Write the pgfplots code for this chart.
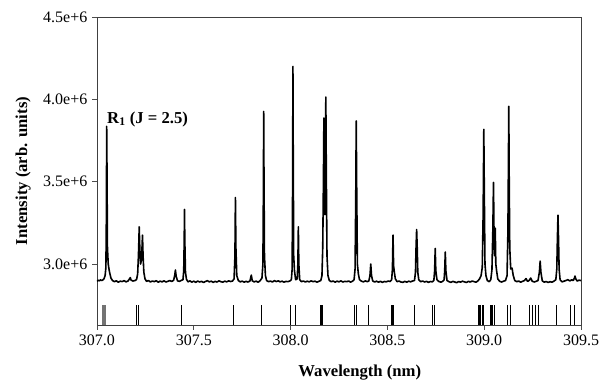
\documentclass[border=0pt]{standalone}
\usepackage{fontspec}
\setmainfont{Liberation Serif}
\usepackage{pgfplots}
\pgfplotsset{compat=1.18}
\usetikzlibrary{calc}
\begin{document}
\begin{tikzpicture}
\begin{axis}[
  scale only axis, width=363pt, height=231pt,
  xmin=307, xmax=309.5, ymin=2.63, ymax=4.5,
  xtick={307,307.5,308,308.5,309,309.5},
  xticklabels={307.0,307.5,308.0,308.5,309.0,309.5},
  ytick={3,3.5,4,4.5},
  yticklabels={3.0e+6,3.5e+6,4.0e+6,4.5e+6},
  tick align=outside, xtick pos=left, ytick pos=left,
  major tick length=3.75pt,
  tick style={black!70, line width=0.5pt},
  axis line style={black!75, line width=0.6pt},
  /pgf/number format/assume math mode=true,
  ticklabel style={font=\fontsize{12}{14}\selectfont},
  xlabel={Wavelength (nm)}, ylabel={Intensity (arb. units)},
  xlabel style={font=\fontsize{12.5}{14}\selectfont\bfseries, at={(axis description cs:0.543,-0.1656)}, anchor=base},
  ylabel style={font=\fontsize{12.5}{14}\selectfont\bfseries, at={(axis description cs:-0.1446,0.5)}, anchor=base},
  clip=true,
]
% sticks (line positions)
\addplot[ycomb, black!55, line width=0.5pt, no marks] coordinates {
(307.028,2.752) (307.032,2.752) (307.036,2.752) (307.040,2.752) (307.044,2.752)
};
\addplot[ycomb, black, line width=0.5pt, no marks] coordinates {
(307.203,2.752) (307.213,2.752) (307.436,2.752) (307.703,2.752) (307.847,2.752)
(308.000,2.752) (308.025,2.752) (308.155,2.752) (308.159,2.752) (308.163,2.752)
(308.330,2.752) (308.340,2.752) (308.404,2.752)
(308.519,2.752) (308.524,2.752) (308.530,2.752) (308.641,2.752)
(308.731,2.752) (308.744,2.752)
(308.970,2.752) (308.976,2.752) (308.982,2.752) (308.988,2.752) (308.994,2.752)
(309.030,2.752) (309.036,2.752) (309.044,2.752) (309.052,2.752)
(309.120,2.752) (309.134,2.752)
(309.235,2.752) (309.248,2.752) (309.266,2.752) (309.280,2.752)
(309.373,2.752) (309.447,2.752) (309.466,2.752)
};
% spectrum (values in units of 1e6)
\addplot[black, line width=1.2pt, no marks, line join=round] coordinates {
(307.000,2.895) (307.006,2.902) (307.012,2.898) (307.018,2.904) (307.024,2.900)
(307.030,2.903) (307.036,2.910) (307.042,2.930) (307.046,2.98) (307.0485,3.30)
(307.050,3.836) (307.0515,3.60) (307.054,3.10) (307.058,3.00) (307.064,2.955)
(307.072,2.915) (307.080,2.900) (307.090,2.893) (307.100,2.898) (307.110,2.890)
(307.120,2.896) (307.130,2.894) (307.140,2.899) (307.150,2.892) (307.160,2.897)
(307.168,2.910) (307.172,2.918) (307.176,2.902) (307.186,2.897) (307.196,2.900)
(307.204,2.905) (307.210,2.94) (307.214,3.05) (307.2165,3.15) (307.218,3.226)
(307.221,3.10) (307.225,3.00) (307.229,3.02) (307.2325,3.10) (307.235,3.176)
(307.238,3.05) (307.242,2.95) (307.248,2.91) (307.256,2.895) (307.266,2.900)
(307.276,2.891) (307.286,2.897) (307.296,2.893) (307.306,2.899) (307.316,2.890)
(307.326,2.896) (307.336,2.892) (307.346,2.898) (307.356,2.891) (307.366,2.895)
(307.376,2.900) (307.386,2.894) (307.396,2.902) (307.402,2.935) (307.405,2.964)
(307.409,2.925) (307.416,2.898) (307.426,2.895) (307.434,2.900) (307.444,2.905)
(307.448,2.96) (307.4505,3.15) (307.452,3.331) (307.4535,3.15) (307.457,2.95)
(307.462,2.908) (307.470,2.892) (307.480,2.898) (307.490,2.890) (307.500,2.896)
(307.510,2.889) (307.520,2.897) (307.530,2.891) (307.540,2.895) (307.550,2.888)
(307.560,2.894) (307.570,2.899) (307.580,2.892) (307.590,2.896) (307.600,2.889)
(307.610,2.895) (307.620,2.891) (307.630,2.898) (307.640,2.893) (307.650,2.890)
(307.660,2.896) (307.670,2.892) (307.680,2.898) (307.690,2.894) (307.700,2.897)
(307.708,2.910) (307.7125,3.05) (307.715,3.404) (307.7175,3.10) (307.722,2.93)
(307.730,2.900) (307.740,2.892) (307.750,2.896) (307.760,2.890) (307.770,2.895)
(307.780,2.891) (307.790,2.897) (307.797,2.933) (307.802,2.898) (307.812,2.892)
(307.822,2.896) (307.832,2.890) (307.842,2.898) (307.852,2.915) (307.857,3.00)
(307.8595,3.45) (307.861,3.927) (307.8625,3.55) (307.865,3.05) (307.870,2.93)
(307.876,2.900) (307.886,2.893) (307.896,2.897) (307.906,2.891) (307.916,2.899)
(307.926,2.894) (307.936,2.898) (307.946,2.892) (307.956,2.896) (307.966,2.890)
(307.976,2.895) (307.986,2.893) (307.996,2.897) (308.004,2.905) (308.008,2.97)
(308.0105,3.50) (308.012,4.200) (308.0135,3.70) (308.016,3.05) (308.020,2.96)
(308.026,2.905) (308.034,2.91) (308.0375,3.00) (308.040,3.226) (308.0425,3.00)
(308.047,2.905) (308.056,2.893) (308.066,2.897) (308.076,2.891) (308.086,2.896)
(308.096,2.892) (308.106,2.898) (308.116,2.893) (308.126,2.896) (308.136,2.890)
(308.146,2.895) (308.156,2.900) (308.162,2.93) (308.166,3.10) (308.1695,3.50)
(308.172,3.887) (308.175,3.50) (308.177,3.30) (308.1795,3.60) (308.182,4.014)
(308.1845,3.55) (308.188,3.05) (308.193,2.93) (308.200,2.900) (308.210,2.893)
(308.220,2.897) (308.230,2.890) (308.240,2.896) (308.250,2.892) (308.260,2.898)
(308.270,2.891) (308.280,2.895) (308.290,2.893) (308.300,2.897) (308.310,2.890)
(308.320,2.896) (308.328,2.905) (308.333,2.97) (308.3365,3.40) (308.339,3.869)
(308.3415,3.45) (308.345,3.00) (308.350,2.94) (308.356,2.905) (308.366,2.896)
(308.376,2.892) (308.386,2.898) (308.396,2.893) (308.404,2.897) (308.410,2.93)
(308.414,3.000) (308.418,2.93) (308.424,2.898) (308.434,2.891) (308.444,2.896)
(308.454,2.890) (308.464,2.895) (308.474,2.889) (308.484,2.894) (308.494,2.892)
(308.504,2.897) (308.514,2.894) (308.522,2.905) (308.526,2.97) (308.529,3.176)
(308.532,2.99) (308.536,2.95) (308.541,2.91) (308.550,2.893) (308.560,2.897)
(308.570,2.891) (308.580,2.889) (308.590,2.895) (308.600,2.890) (308.610,2.896)
(308.620,2.892) (308.630,2.897) (308.640,2.900) (308.645,2.95) (308.648,3.10)
(308.651,3.21) (308.654,3.10) (308.657,2.95) (308.662,2.905) (308.672,2.893)
(308.682,2.897) (308.692,2.891) (308.702,2.895) (308.712,2.889) (308.722,2.894)
(308.732,2.892) (308.740,2.900) (308.744,2.96) (308.747,3.095) (308.750,2.96)
(308.756,2.905) (308.766,2.894) (308.776,2.890) (308.786,2.895) (308.793,2.905)
(308.796,2.96) (308.799,3.073) (308.802,2.96) (308.808,2.900) (308.818,2.893)
(308.828,2.889) (308.838,2.895) (308.848,2.891) (308.858,2.887) (308.868,2.894)
(308.878,2.890) (308.888,2.896) (308.898,2.892) (308.908,2.888) (308.918,2.895)
(308.928,2.891) (308.938,2.897) (308.948,2.893) (308.958,2.890) (308.968,2.898)
(308.976,2.910) (308.984,2.93) (308.990,2.98) (308.9945,3.30) (308.998,3.818)
(309.0005,3.45) (309.004,3.00) (309.009,2.93) (309.016,2.900) (309.026,2.893)
(309.034,2.905) (309.040,2.965) (309.0445,3.20) (309.048,3.495) (309.0515,3.10)
(309.054,3.05) (309.057,3.218) (309.060,3.00) (309.064,2.96) (309.070,2.91)
(309.080,2.895) (309.090,2.891) (309.100,2.896) (309.110,2.900) (309.118,2.93)
(309.1225,3.20) (309.125,3.60) (309.127,3.958) (309.129,3.55) (309.132,3.10)
(309.137,2.97) (309.144,2.975) (309.150,2.93) (309.158,2.900) (309.168,2.893)
(309.178,2.897) (309.188,2.890) (309.198,2.895) (309.208,2.900) (309.216,2.912)
(309.224,2.895) (309.232,2.900) (309.240,2.915) (309.248,2.896) (309.258,2.891)
(309.268,2.895) (309.278,2.900) (309.285,2.95) (309.289,3.018) (309.293,2.95)
(309.300,2.898) (309.310,2.890) (309.320,2.894) (309.330,2.888) (309.340,2.893)
(309.350,2.890) (309.360,2.896) (309.370,2.905) (309.375,2.97) (309.378,3.15)
(309.381,3.297) (309.384,3.15) (309.387,2.97) (309.392,2.905) (309.402,2.892)
(309.412,2.896) (309.422,2.900) (309.432,2.905) (309.442,2.898) (309.452,2.904)
(309.460,2.900) (309.466,2.915) (309.469,2.927) (309.473,2.910) (309.480,2.897)
(309.490,2.902) (309.500,2.900)
};
\node[anchor=base west, font=\fontsize{12.5}{14}\selectfont\bfseries, inner sep=0pt]
  at (axis cs:307.0515,3.855) {R\textsubscript{1} (J = 2.5)};
\coordinate (sw) at (rel axis cs:0,0);
\coordinate (ne) at (rel axis cs:1,1);
\end{axis}
\pgfresetboundingbox
\path[use as bounding box] ($(sw)+(-72.75pt,-42pt)$) rectangle ($(ne)+(14.25pt,12.75pt)$);
\end{tikzpicture}
\end{document}
